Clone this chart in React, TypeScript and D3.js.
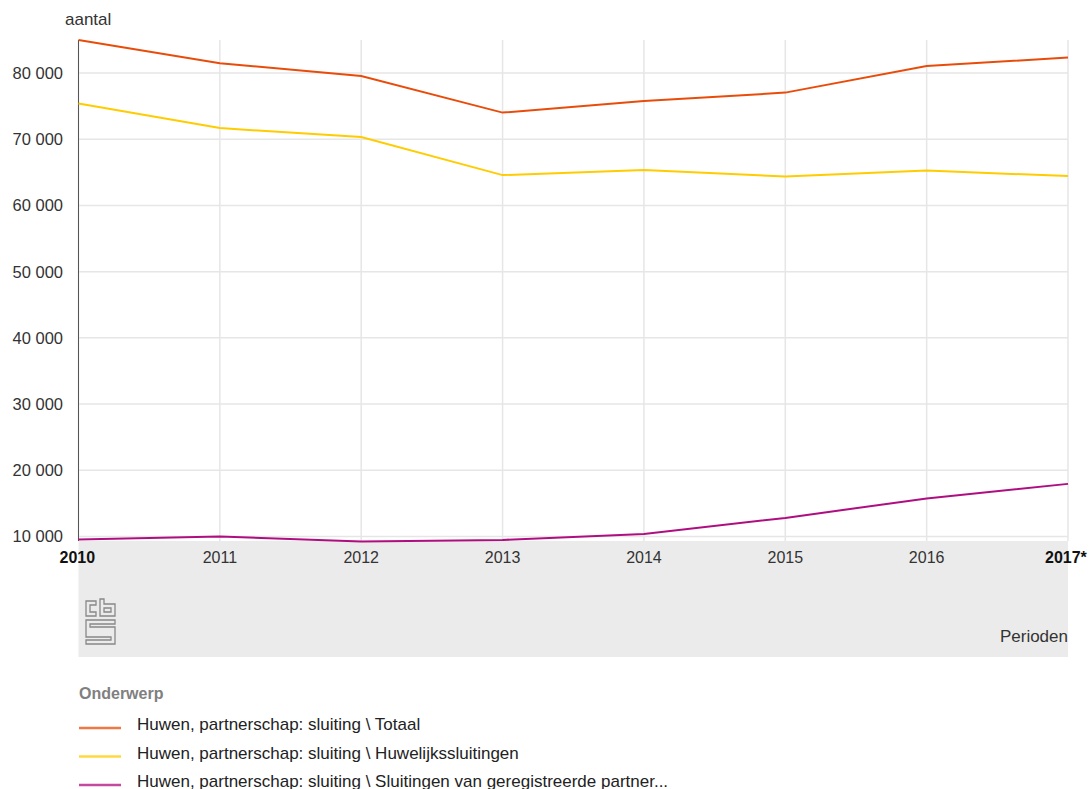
import React from "react";
import * as d3 from "d3";

const years = ["2010", "2011", "2012", "2013", "2014", "2015", "2016", "2017*"];
const totaal = [85000, 81500, 79550, 74030, 75770, 77050, 81060, 82340];
const huwelijk = [75390, 71690, 70330, 64590, 65350, 64370, 65270, 64440];
const partner = [9550, 10000, 9250, 9470, 10380, 12800, 15740, 17940];
const yTicks = [10000, 20000, 30000, 40000, 50000, 60000, 70000, 80000];
const seriesNames = [
  "Huwen, partnerschap: sluiting \\ Totaal",
  "Huwen, partnerschap: sluiting \\ Huwelijkssluitingen",
  "Huwen, partnerschap: sluiting \\ Sluitingen van geregistreerde partner...",
];
const seriesColors = ["#e94c0a", "#ffcc00", "#af0e80"];

const W = 1091, H = 789;
const L = 78.5, R = 1068, T = 40, B = 541;

export default function App() {
  const x = d3.scalePoint<string>().domain(years).range([L, R]);
  const y = d3.scaleLinear().domain([9310, 85000]).range([B, T]);
  const line = d3.line<number>().x((_, i) => x(years[i])!).y((d) => y(d));
  const data = [totaal, huwelijk, partner];
  const fmt = (v: number) => d3.format(",")(v).replace(/,/g, " ");
  const font = "'Liberation Sans', Arial, sans-serif";
  return (
    <svg width={W} height={H} style={{ position: "absolute", left: 0, top: 0, fontFamily: font }}>
      <rect width={W} height={H} fill="#fff" />
      <text x={65} y={25} fontSize={17} fill="#333">aantal</text>
      {/* gray band */}
      <rect x={L} y={B} width={R - L} height={657 - B} fill="#ebebeb" />
      {/* gridlines */}
      {yTicks.map((t) => (
        <line key={t} x1={L} x2={R} y1={y(t)} y2={y(t)} stroke="#e6e6e6" strokeWidth={1.5} />
      ))}
      {years.map((yr) => (
        <line key={yr} x1={x(yr)} x2={x(yr)} y1={T} y2={B} stroke="#e6e6e6" strokeWidth={1.5} />
      ))}
      <line x1={L} x2={L} y1={T} y2={B} stroke="#555" strokeWidth={1} />
      {yTicks.map((t) => (
        <text key={t} x={63} y={y(t) + 6} fontSize={16.5} fill="#333" textAnchor="end">{fmt(t)}</text>
      ))}
      {years.map((yr, i) => (
        <text
          key={yr}
          x={i === 0 ? L - 19 : i === years.length - 1 ? R - 23 : x(yr)}
          y={563}
          fontSize={16}
          fill={i === 0 || i === years.length - 1 ? "#111" : "#333"}
          fontWeight={i === 0 || i === years.length - 1 ? "bold" : "normal"}
          textAnchor={i === 0 ? "start" : i === years.length - 1 ? "start" : "middle"}
        >{yr}</text>
      ))}
      <text x={R} y={642} fontSize={17} fill="#333" textAnchor="end">Perioden</text>
      {/* CBS logo */}
      <g fill="none" stroke="#888" strokeWidth={1.3}>
        <path d="M86,601 h10 v4 h-6 v7 h6 v4 h-10 z" />
        <path d="M100,599 h4 v5 h11 v12 h-15 z M104,608 v4 h7 v-4 z" />
        <path d="M86,620 h29 v4 h-25 v3 h25 v17 h-29 v-4 h25 v-3 h-25 z" />
      </g>
      {/* lines */}
      {data.map((d, i) => (
        <path key={i} d={line(d)!} fill="none" stroke={seriesColors[i]} strokeWidth={2} />
      ))}
      {/* legend */}
      <text x={79} y={699} fontSize={16} fill="#808080" fontWeight="bold">Onderwerp</text>
      {seriesNames.map((n, i) => (
        <g key={n}>
          <line x1={79} x2={121} y1={728 + i * 28.5} y2={728 + i * 28.5} stroke={seriesColors[i]} strokeWidth={2.5} opacity={0.75} />
          <text x={137} y={730 + i * 28.5} fontSize={17} fill="#222">{n}</text>
        </g>
      ))}
    </svg>
  );
}
